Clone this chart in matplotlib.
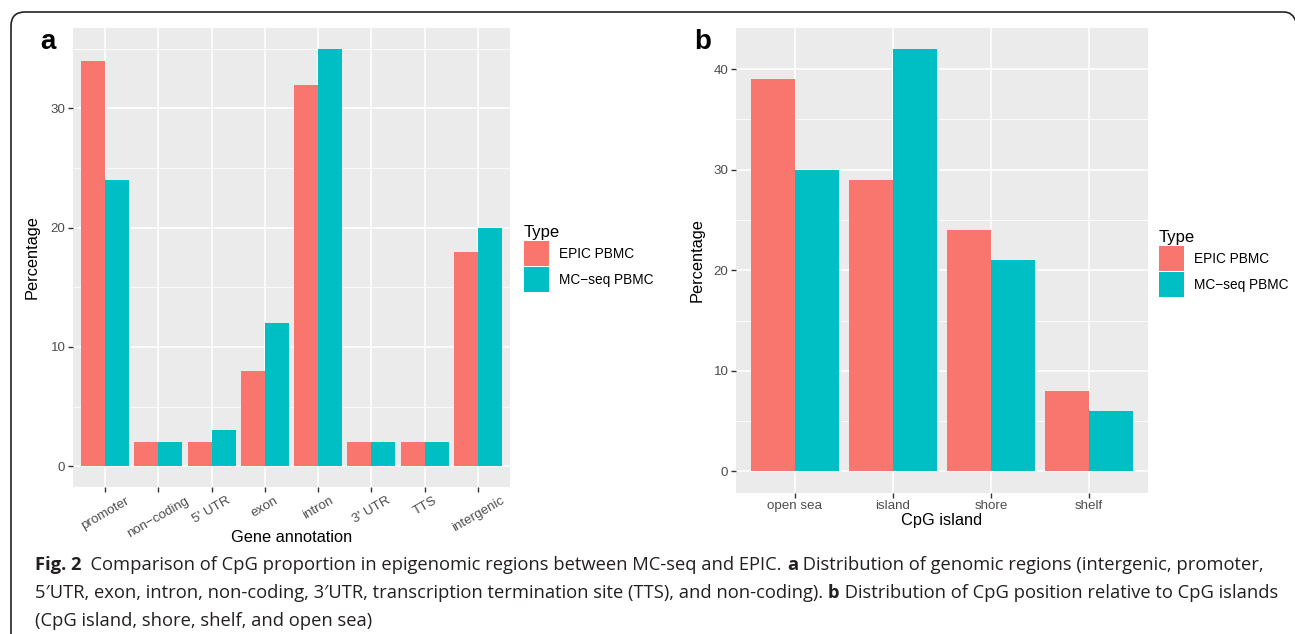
import matplotlib
matplotlib.use("Agg")
import matplotlib.pyplot as plt
import numpy as np
from matplotlib.patches import Patch
from matplotlib.path import Path
from matplotlib.patches import PathPatch

# ---------------- data ----------------
gene_categories = ["promoter", "non\u2212coding", "5' UTR", "exon", "intron", "3' UTR", "TTS", "intergenic"]
gene_epic = [34, 2, 2, 8, 32, 2, 2, 18]
gene_mcseq = [24, 2, 3, 12, 35, 2, 2, 20]

cpg_categories = ["open sea", "island", "shore", "shelf"]
cpg_epic = [39, 29, 24, 8]
cpg_mcseq = [30, 42, 21, 6]

series_names = ["EPIC PBMC", "MC\u2212seq PBMC"]
colors = ["#F8766D", "#00BFC4"]

caption_lines = [
    [("Fig. 2", "bold"), ("  Comparison of CpG proportion in epigenomic regions between MC-seq and EPIC. ", "normal"),
     ("a", "bold"), (" Distribution of genomic regions (intergenic, promoter,", "normal")],
    [("5\u2032UTR, exon, intron, non-coding, 3\u2032UTR, transcription termination site (TTS), and non-coding). ", "normal"),
     ("b", "bold"), (" Distribution of CpG position relative to CpG islands", "normal")],
    [("(CpG island, shore, shelf, and open sea)", "normal")],
]

# ---------------- figure ----------------
W, H = 1295, 634
fig = plt.figure(figsize=(W / 100, H / 100), dpi=100)
plt.rcParams["font.family"] = ["Liberation Sans", "DejaVu Sans"]

TICK_FS = 9.6
TITLE_FS = 11.8

def fx(px):
    return px / W

def fy(py):
    return 1 - py / H

def gg_axes(rect, cats, v1, v2, ymax, yticks, minor):
    ax = fig.add_axes(rect)
    ax.set_facecolor("#EBEBEB")
    x = np.arange(1, len(cats) + 1)
    bw = 0.45
    ax.bar(x - bw / 2, v1, width=bw, color=colors[0], zorder=3, linewidth=0)
    ax.bar(x + bw / 2, v2, width=bw, color=colors[1], zorder=3, linewidth=0)
    ax.set_xlim(0.4, len(cats) + 0.6)
    ax.set_ylim(-ymax * 0.05, ymax * 1.05)
    ax.set_yticks(yticks)
    ax.set_yticks(minor, minor=True)
    ax.set_xticks(x)
    ax.grid(True, which="major", color="white", linewidth=1.1, zorder=1)
    ax.grid(True, which="minor", axis="y", color="white", linewidth=0.55, zorder=1)
    ax.set_axisbelow(True)
    for s in ax.spines.values():
        s.set_visible(False)
    ax.tick_params(which="major", length=3.5, width=1.0, color="#333333", labelcolor="#4D4D4D",
                   labelsize=TICK_FS, pad=2)
    ax.tick_params(which="minor", length=0)
    return ax

# Panel a  (pixel box: x 73..510, y 28..487)
a_l, a_r, a_t, a_b = 73, 510, 28, 487
axa = gg_axes([fx(a_l), fy(a_b), fx(a_r) - fx(a_l), fy(a_t) - fy(a_b)],
              gene_categories, gene_epic, gene_mcseq, 35, [0, 10, 20, 30], [5, 15, 25, 35])
axa.set_xticklabels(gene_categories, rotation=30, ha="center", va="top")
axa.set_xlabel("Gene annotation", fontsize=TITLE_FS, va="center")
axa.xaxis.set_label_coords(0.5, (a_b - 538) / (a_b - a_t))
axa.set_ylabel("Percentage", fontsize=TITLE_FS, va="center")
axa.yaxis.set_label_coords((32 - a_l) / (a_r - a_l), 0.5)

# Panel b  (pixel box: x 736..1148, y 28..492.5)
b_l, b_r, b_t, b_b = 736, 1148, 28, 492.5
axb = gg_axes([fx(b_l), fy(b_b), fx(b_r) - fx(b_l), fy(b_t) - fy(b_b)],
              cpg_categories, cpg_epic, cpg_mcseq, 42, [0, 10, 20, 30, 40], [5, 15, 25, 35])
axb.set_xticklabels(cpg_categories)
axb.set_xlabel("CpG island", fontsize=TITLE_FS, va="center")
axb.xaxis.set_label_coords(0.5, (b_b - 521) / (b_b - b_t))
axb.set_ylabel("Percentage", fontsize=TITLE_FS, va="center")
axb.yaxis.set_label_coords((697 - b_l) / (b_r - b_l), 0.5)

# legends
LEG_FS = 9.8
handles = [Patch(facecolor=colors[i], edgecolor="none") for i in range(2)]
for (lx, ly) in [(524, 225), (1159, 230)]:
    fig.legend(handles, series_names, title="Type", loc="upper left",
               bbox_to_anchor=(fx(lx), fy(ly)), frameon=False, fontsize=LEG_FS,
               title_fontsize=12, handlelength=1.84, handleheight=2.45,
               labelspacing=0.08, handletextpad=0.73, borderpad=0.0, borderaxespad=0.0,
               alignment="left")

# panel letters
fig.text(fx(40), fy(42), "a", fontsize=20, fontweight="bold", va="center", ha="left")
fig.text(fx(694), fy(42), "b", fontsize=20, fontweight="bold", va="center", ha="left")

# border (left + top with rounded corners, right corner running off the edge)
r = 14
verts = [(fx(11), 0), (fx(11), fy(12 + r)), (fx(11), fy(12)), (fx(11 + r), fy(12)),
         (fx(1284), fy(12)), (fx(1293), fy(12)), (fx(1296), fy(22))]
codes = [Path.MOVETO, Path.LINETO, Path.CURVE3, Path.CURVE3, Path.LINETO, Path.CURVE3, Path.CURVE3]
fig.add_artist(PathPatch(Path(verts, codes), transform=fig.transFigure, fill=False,
                         edgecolor="#222222", linewidth=1.2))

# caption
renderer = fig.canvas.get_renderer()
cap_family = ["Open Sans", "DejaVu Sans"]
base_fs = 12.0

def draw_line(segs, x0, y, fs, draw=True):
    x = x0
    for txt, wt in segs:
        t = fig.text(fx(x), fy(y), txt, fontsize=fs, fontweight=wt, family=cap_family,
                     va="baseline", ha="left", color="#231F20")
        bb = t.get_window_extent(renderer)
        x += bb.width
        if not draw:
            t.remove()
    return x - x0

wnat = draw_line(caption_lines[0], 35, 570, base_fs, draw=False)
fs = base_fs * (1227 / wnat)
for i, segs in enumerate(caption_lines):
    draw_line(segs, 35, 570 + 28 * i, fs)

fig.savefig("out.png", dpi=100)
